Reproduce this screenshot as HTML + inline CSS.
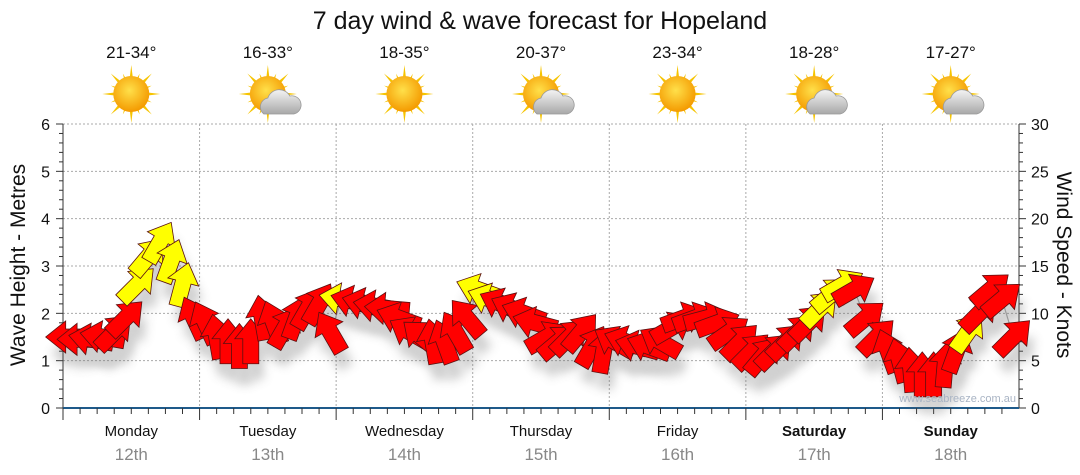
<!DOCTYPE html>
<html><head><meta charset="utf-8"><style>
body{margin:0;background:#fff;font-family:"Liberation Sans","DejaVu Sans",sans-serif}
svg{display:block}
</style></head><body>
<svg id="c" width="1080" height="475">
<defs>
<radialGradient id="sun" cx="45%" cy="40%" r="60%"><stop offset="0" stop-color="#ffe04a"/><stop offset="1" stop-color="#f49a00"/></radialGradient>
<linearGradient id="cloud" x1="0" y1="0" x2="0" y2="1"><stop offset="0" stop-color="#f4f4f4"/><stop offset="1" stop-color="#a8a8a8"/></linearGradient>
<filter id="sh" x="-50%" y="-50%" width="200%" height="200%"><feGaussianBlur stdDeviation="5"/></filter>
</defs>
<text x="540" y="29" text-anchor="middle" font-size="25" fill="#111">7 day wind &amp; wave forecast for Hopeland</text>
<g id="grid"></g><g id="icons"></g><g id="axes"></g><g id="shadows" opacity="0.3"></g><g id="line"></g><g id="arrows"></g>
<text x="25" y="265" transform="rotate(-90 25 265)" text-anchor="middle" font-size="21" fill="#111">Wave Height - Metres</text>
<text x="1057" y="265" transform="rotate(90 1057 265)" text-anchor="middle" font-size="21" fill="#111">Wind Speed - Knots</text>
<text x="1016" y="402" text-anchor="end" font-size="11" fill="#a9b4c4">www.seabreeze.com.au</text>
</svg>
<script>
const days=["Monday","Tuesday","Wednesday","Thursday","Friday","Saturday","Sunday"];
const dates=["12th","13th","14th","15th","16th","17th","18th"];
const temps=["21-34°","16-33°","18-35°","20-37°","23-34°","18-28°","17-27°"];
const cloudy=[0,1,0,1,0,1,1];
const waveTicks=[0,1,2,3,4,5,6];
const windTicks=[0,5,10,15,20,25,30];
const heights=[1.5,1.45,1.45,1.5,1.6,1.9,2.6,3.2,3.5,3.1,2.6,1.9,
1.8,1.5,1.4,1.3,1.4,1.9,1.8,1.7,1.9,2.1,2.2,1.6,
2.3,2.25,2.2,2.15,2.1,1.9,1.6,1.5,1.4,1.4,1.6,1.9,
2.5,2.3,2.2,2.1,2.0,1.8,1.5,1.4,1.5,1.6,1.3,1.2,
1.4,1.4,1.3,1.3,1.4,1.7,1.9,1.9,1.9,1.8,1.6,1.4,
1.2,1.1,1.2,1.4,1.6,1.8,2.1,2.4,2.6,2.5,1.9,1.5,
1.2,1.0,0.8,0.7,0.7,0.9,1.2,1.6,2.0,2.5,2.3,1.5];
const dirs=[180,180,170,170,45,45,45,50,60,70,75,115,
115,100,90,90,90,100,110,60,70,60,60,120,
170,165,165,170,175,160,150,140,100,110,120,130,
160,160,155,155,160,165,30,40,45,50,60,80,
150,160,165,160,150,30,20,20,15,20,35,45,
45,50,45,45,45,45,45,40,30,30,40,45,
110,105,95,90,90,85,70,55,45,40,40,45];
const colors=["r","r","r","r","r","r","y","y","y","y","y","r",
"r","r","r","r","r","r","r","r","r","r","r","r",
"y","r","r","r","r","r","r","r","r","r","r","r",
"y","y","r","r","r","r","r","r","r","r","r","r",
"r","r","r","r","r","r","r","r","r","r","r","r",
"r","r","r","r","r","r","y","y","y","r","r","r",
"r","r","r","r","r","r","r","y","r","r","r","r"];
const NS="http://www.w3.org/2000/svg";
const X0=63,X1=1019,Y0=408,Y1=124,DW=(X1-X0)/7;
const yW=h=>Y0-(h/6)*(Y0-Y1);
const yK=k=>Y0-(k/30)*(Y0-Y1);
const xI=i=>X0+(i+0.5)*DW/12;
function el(t,a,p){const e=document.createElementNS(NS,t);for(const k in a)e.setAttribute(k,a[k]);p.appendChild(e);return e;}
const grid=document.getElementById('grid'),axes=document.getElementById('axes'),icons=document.getElementById('icons');
waveTicks.forEach(v=>{if(v>0){const g=el('line',{x1:X0,x2:X1,y1:yW(v),y2:yW(v),stroke:'#aaa','stroke-dasharray':'2,2'},grid);

}
const t=el('text',{x:50,y:yW(v)+6,'text-anchor':'end','font-size':16,fill:'#111'},axes);t.textContent=v;

});
for(let m=0;m<=30;m++){const y=yW(m*0.2);el('line',{x1:m%5==0?56:59,x2:X0,y1:y,y2:y,stroke:'#333'},axes);el('line',{x1:X1,x2:X1+(m%5==0?7:4),y1:y,y2:y,stroke:'#333'},axes);}
windTicks.forEach(v=>{const t=el('text',{x:1031,y:yK(v)+6,'font-size':16,fill:'#111'},axes);t.textContent=v;

});
el('line',{x1:X0,x2:X0,y1:Y1,y2:Y0,stroke:'#333'},axes);
el('line',{x1:X1,x2:X1,y1:Y1,y2:Y0,stroke:'#333'},axes);
el('line',{x1:X0,x2:X1,y1:Y0,y2:Y0,stroke:'#1e5a8a','stroke-width':2},axes);
for(let d=0;d<7;d++){const xs=X0+d*DW;
if(d>0){const g=el('line',{x1:xs,x2:xs,y1:Y1,y2:Y0,stroke:'#aaa','stroke-dasharray':'2,2'},grid);

}
for(let q=0;q<8;q++){const x=xs+q*DW/8;el('line',{x1:x,x2:x,y1:Y0,y2:Y0+(q==0?12:6),stroke:'#333'},axes);}
const cx=xs+DW/2;
const dl=el('text',{x:cx,y:436,'text-anchor':'middle','font-size':15,fill:'#111','font-weight':d>=5?'bold':'normal'},axes);dl.textContent=days[d];


const dt=el('text',{x:cx,y:460,'text-anchor':'middle','font-size':17,fill:'#888'},axes);dt.textContent=dates[d];


const tt=el('text',{x:cx,y:58,'text-anchor':'middle','font-size':17,fill:'#111'},icons);tt.textContent=temps[d];


const g=el('g',{transform:`translate(${cx},94)`},icons);


for(let r=0;r<16;r++){const a=r*22.5,L=r%2?22:29;el('polygon',{points:`-3.5,0 3.5,0 0,-${L}`,fill:'#f6c400',transform:`rotate(${a})`},g);}
el('circle',{r:18,fill:'url(#sun)'},g);
if(cloudy[d]){el('path',{d:'M-4,20 a9,9 0 0 1 4,-16 a12,12 0 0 1 22,-2 a9,9 0 0 1 4,18 z',fill:'url(#cloud)',stroke:'#999','stroke-width':0.8},g);}
}
const pts=heights.map((h,i)=>[xI(i),yW(h)]);
el('polyline',{points:pts.map(p=>p.join(',')).join(' '),fill:'none',stroke:'#999','stroke-width':1.2},document.getElementById('line'));
const arrows=document.getElementById('arrows'),sh=document.getElementById('shadows');
const shape='M-22,-8 L3,-8 L3,-16 L23,0 L3,16 L3,8 L-22,8 Z';
heights.forEach((h,i)=>{const x=xI(i),y=yW(h);
el('path',{d:shape,fill:'#666',filter:'url(#sh)',transform:`translate(${x+5},${y+16}) rotate(${-dirs[i]})`},sh);
const a=el('path',{d:shape,fill:colors[i]=='y'?'#ffff00':'#ff0000',stroke:'#5a1010','stroke-width':0.8,transform:`translate(${x},${y}) rotate(${-dirs[i]})`},arrows);

});
</script>
</body></html>
